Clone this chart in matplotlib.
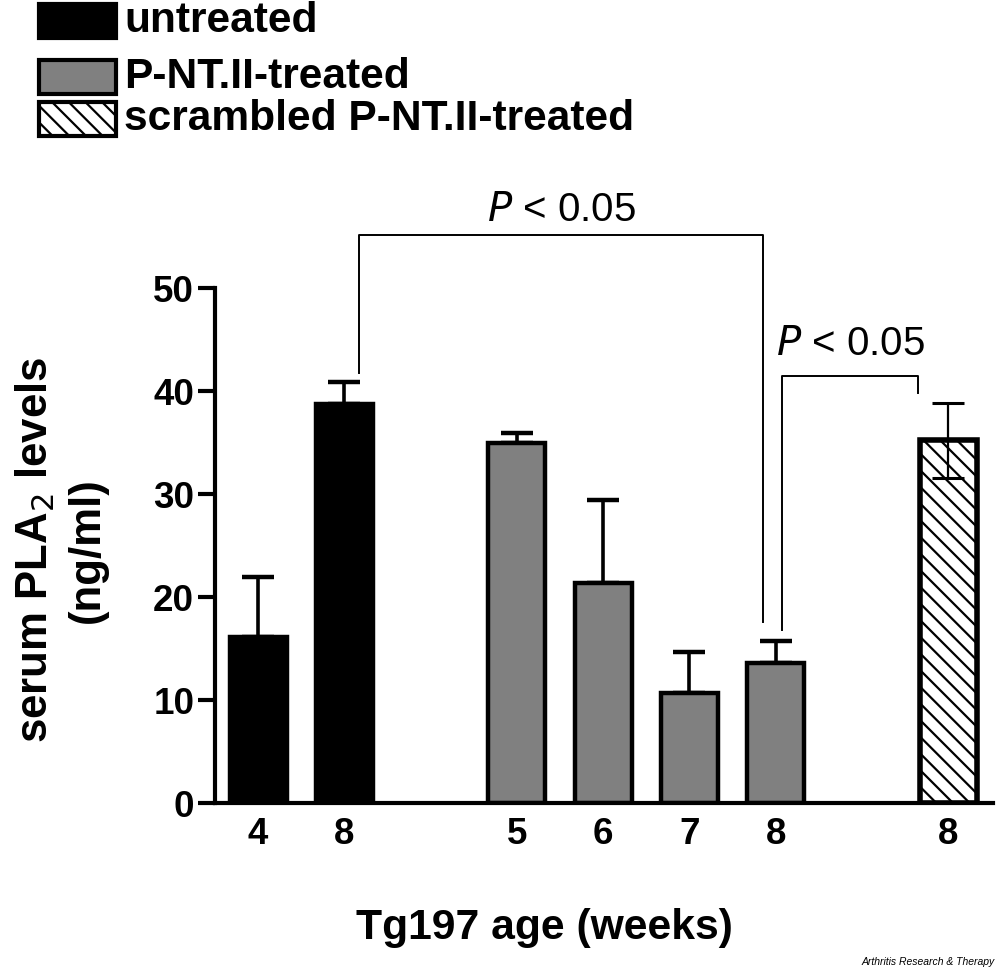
import matplotlib
matplotlib.use("Agg")
import matplotlib.pyplot as plt
from matplotlib.patches import Rectangle

plt.rcParams['font.family'] = ['Liberation Sans', 'DejaVu Sans']
plt.rcParams['hatch.linewidth'] = 1.6

# ---- data ----
tick_labels = ['4', '8', '5', '6', '7', '8', '8']
untreated_vals = [16.1, 38.7]
untreated_err = [5.8, 2.2]
treated_vals = [35.0, 21.4, 10.7, 13.6]
treated_err = [0.9, 8.0, 4.0, 2.1]
scrambled_vals = [35.2]
scrambled_err = [3.6]
legend_labels = ['untreated', 'P-NT.II-treated', 'scrambled P-NT.II-treated']

# positions (slots on the category axis)
pos_untreated = [0, 1]
pos_treated = [3, 4, 5, 6]
pos_scrambled = [8]

W, H = 1000, 971
fig = plt.figure(figsize=(W / 100, H / 100), dpi=100)
ax_l, ax_r, ax_b, ax_t = 215, 993, 803, 288
ax = fig.add_axes([ax_l / W, (H - ax_b) / H, (ax_r - ax_l) / W, (ax_b - ax_t) / H])

bw = 0.66
edge_lw = 3.2

ax.bar(pos_untreated, untreated_vals, width=bw, color='black', edgecolor='black',
       linewidth=edge_lw, zorder=2)
ax.errorbar(pos_untreated, untreated_vals, yerr=[[0, 0], untreated_err], fmt='none',
            ecolor='black', elinewidth=2.6, capsize=11.5, capthick=3.2, zorder=3)

ax.bar(pos_treated, treated_vals, width=bw, color='#808080', edgecolor='black',
       linewidth=edge_lw, zorder=2)
ax.errorbar(pos_treated, treated_vals, yerr=[[0] * 4, treated_err], fmt='none',
            ecolor='black', elinewidth=2.6, capsize=11.5, capthick=3.2, zorder=1)

ax.bar(pos_scrambled, scrambled_vals, width=bw, color='white', edgecolor='black',
       linewidth=edge_lw + 0.8, hatch='\\\\', zorder=2)
ax.errorbar(pos_scrambled, scrambled_vals, yerr=[scrambled_err], fmt='none',
            ecolor='black', elinewidth=1.6, capsize=11.5, capthick=2.2, zorder=3)

ax.set_xlim(-0.5, 8.52)
ax.set_ylim(0, 50)
ax.set_yticks([0, 10, 20, 30, 40, 50])
ax.set_xticks(pos_untreated + pos_treated + pos_scrambled)
ax.set_xticklabels(tick_labels)
for s in ['top', 'right']:
    ax.spines[s].set_visible(False)
for s in ['left', 'bottom']:
    ax.spines[s].set_linewidth(3)
ax.tick_params(axis='y', length=12, width=3, labelsize=26.5, pad=3)
ax.tick_params(axis='x', length=0, labelsize=26.5, pad=10)
for lab in ax.get_xticklabels() + ax.get_yticklabels():
    lab.set_fontweight('bold')

# significance brackets
blw = 1.4
ax.plot([1.17, 1.17, 5.85, 5.85], [41.7, 55.1, 55.1, 17.6], color='black',
        lw=blw, clip_on=False, zorder=4)
ax.text(3.52, 57.6, r'$\it{P}$ < 0.05', ha='center', va='center', fontsize=29,
        clip_on=False)
ax.plot([6.07, 6.07, 7.65, 7.65], [16.8, 41.5, 41.5, 39.8], color='black',
        lw=blw, clip_on=False, zorder=4)
ax.text(6.87, 44.6, r'$\it{P}$ < 0.05', ha='center', va='center', fontsize=29,
        clip_on=False)

# axis labels
fig.text(35 / W, 1 - 550 / H, 'serum PLA$_2$ levels', rotation=90, ha='center',
         va='center', fontsize=31.5, fontweight='bold')
fig.text(87 / W, 1 - 550 / H, '(ng/ml)', rotation=90, ha='center', va='center',
         fontsize=31.5, fontweight='bold')
fig.text(544 / W, 1 - 928 / H, 'Tg197 age (weeks)', ha='center', va='center',
         fontsize=30.7, fontweight='bold')

# legend (manual)
box_x0, box_x1 = 39, 116
rows = [(4, 38), (60, 94), (102, 136)]
fills = [('black', None), ('#808080', None), ('white', '\\\\')]
for (y0, y1), (fc, hatch), lab in zip(rows, fills, legend_labels):
    r = Rectangle((box_x0 / W, 1 - y1 / H), (box_x1 - box_x0) / W, (y1 - y0) / H,
                  transform=fig.transFigure, facecolor=fc, edgecolor='black',
                  linewidth=3, hatch=hatch)
    fig.add_artist(r)
    fig.text(124 / W, 1 - (y0 + y1) / 2 / H, lab, ha='left', va='center',
             fontsize=30.6, fontweight='bold')

fig.text(0.995, 1 - 962 / H, 'Arthritis Research & Therapy', ha='right',
         va='center', fontsize=7.5, style='italic')

fig.savefig('out.png', dpi=100)
